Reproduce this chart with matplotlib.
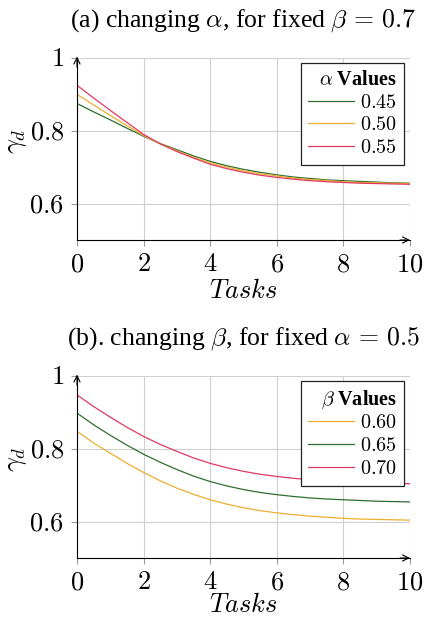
import matplotlib
matplotlib.use("Agg")
import matplotlib.pyplot as plt
from matplotlib.ticker import FixedLocator, FuncFormatter

plt.rcParams['mathtext.fontset'] = 'cm'
plt.rcParams['font.family'] = ['Liberation Serif', 'DejaVu Serif']

# ---------------- data ----------------
tasks = [0, 0.5, 1, 1.5, 2, 2.5, 3, 3.5, 4, 4.5, 5, 5.5, 6, 6.5, 7, 7.5, 8, 8.5, 9, 9.5, 10]

# panel (a): changing alpha, beta fixed at 0.7
alpha_labels = ["0.45", "0.50", "0.55"]
gamma_a045 = [0.875, 0.852, 0.830, 0.807, 0.785, 0.765, 0.748, 0.731, 0.716, 0.704, 0.694,
              0.686, 0.679, 0.673, 0.669, 0.665, 0.663, 0.661, 0.659, 0.657, 0.656]
gamma_a050 = [0.900, 0.871, 0.842, 0.814, 0.787, 0.764, 0.745, 0.727, 0.712, 0.700, 0.690,
              0.682, 0.676, 0.670, 0.666, 0.663, 0.660, 0.658, 0.657, 0.656, 0.655]
gamma_a055 = [0.925, 0.890, 0.856, 0.823, 0.790, 0.764, 0.743, 0.725, 0.708, 0.696, 0.686,
              0.678, 0.672, 0.667, 0.663, 0.660, 0.658, 0.656, 0.655, 0.654, 0.653]

# panel (b): changing beta, alpha fixed at 0.5
beta_labels = ["0.60", "0.65", "0.70"]
gamma_b060 = [0.848, 0.816, 0.788, 0.760, 0.735, 0.712, 0.692, 0.675, 0.660, 0.648, 0.638,
              0.630, 0.624, 0.619, 0.615, 0.612, 0.609, 0.607, 0.606, 0.605, 0.604]
gamma_b065 = [0.898, 0.866, 0.837, 0.810, 0.785, 0.763, 0.743, 0.725, 0.710, 0.698, 0.688,
              0.680, 0.674, 0.669, 0.665, 0.662, 0.660, 0.658, 0.656, 0.655, 0.654]
gamma_b070 = [0.948, 0.916, 0.887, 0.859, 0.834, 0.812, 0.793, 0.775, 0.760, 0.748, 0.738,
              0.730, 0.724, 0.719, 0.715, 0.712, 0.709, 0.707, 0.706, 0.705, 0.704]

x_ticks = [0, 2, 4, 6, 8, 10]
y_ticks = [0.6, 0.8, 1.0]

GREEN = '#2e6e2e'
YELLOW = '#eeae30'
RED = '#df3a62'

fig = plt.figure(figsize=(4.24, 6.2), dpi=100)

W, H = 424.0, 620.0
def add_axes(left, top, right, bottom):
    return fig.add_axes([left / W, 1 - bottom / H, (right - left) / W, (bottom - top) / H])

ax_a = add_axes(77, 58, 410, 240)
ax_b = add_axes(77, 376, 410, 558)

def style(ax, title, legend_title, series, labels, colors, xlab_y):
    for y, lab, c in zip(series, labels, colors):
        ax.plot(tasks, y, color=c, lw=0.9, label=f"${lab}$", zorder=3)
    ax.set_xlim(0, 10)
    ax.set_ylim(0.5, 1.0)
    ax.xaxis.set_major_locator(FixedLocator(x_ticks))
    ax.yaxis.set_major_locator(FixedLocator(y_ticks))
    ax.xaxis.set_major_formatter(FuncFormatter(lambda v, p: f"${v:g}$"))
    ax.yaxis.set_major_formatter(FuncFormatter(lambda v, p: f"${v:g}$"))
    ax.grid(True, color='#d0d0d0', lw=0.8, zorder=0)
    for s in ['top', 'right']:
        ax.spines[s].set_visible(False)
    for s in ['left', 'bottom']:
        ax.spines[s].set_color('black')
        ax.spines[s].set_linewidth(0.8)
        ax.spines[s].set_zorder(4)
    ax.tick_params(axis='both', direction='out', length=4.3, width=0.8, color='#9a9a9a',
                   labelsize=19, labelcolor='black')
    ax.tick_params(axis='x', pad=6)
    ax.tick_params(axis='y', pad=5)
    # arrow heads
    ax.annotate('', xy=(1.0, 0), xytext=(0.97, 0), xycoords='axes fraction',
                arrowprops=dict(arrowstyle='->,head_length=0.45,head_width=0.22', lw=0.8,
                                color='black', shrinkA=0, shrinkB=0))
    ax.annotate('', xy=(0, 1.008), xytext=(0, 0.95), xycoords='axes fraction',
                arrowprops=dict(arrowstyle='->,head_length=0.45,head_width=0.22', lw=0.8,
                                color='black', shrinkA=0, shrinkB=0))
    ax.text(0.5, 1.17, title, transform=ax.transAxes, ha='center', va='baseline',
            fontsize=18.5, family='Liberation Serif')
    ax.text(0.5, xlab_y, r"$Tasks$", transform=ax.transAxes, ha='center', va='baseline',
            fontsize=19)
    ax.text(-0.18, 0.544, r"$\gamma_d$", transform=ax.transAxes, ha='center', va='center',
            rotation=90, fontsize=19)
    leg = ax.legend(loc='upper right', bbox_to_anchor=(0.982, 0.9725), borderaxespad=0,
                    title=legend_title, alignment='right',
                    title_fontproperties={'family': 'Liberation Serif', 'weight': 'bold', 'size': 14.5},
                    prop={'size': 14.5}, frameon=True, fancybox=False, framealpha=1,
                    edgecolor='#222222', handlelength=2.3, handletextpad=0.3,
                    labelspacing=0.18, borderpad=0.35)
    leg.get_frame().set_linewidth(0.9)
    leg.set_zorder(5)

style(ax_a, r"(a) changing $\alpha$, for fixed $\beta\,=\,0.7$", r"$\alpha$ Values",
      [gamma_a045, gamma_a050, gamma_a055], alpha_labels, [GREEN, YELLOW, RED], -0.318)
style(ax_b, r"(b). changing $\beta$, for fixed $\alpha\,=\,0.5$", r"$\beta$ Values",
      [gamma_b060, gamma_b065, gamma_b070], beta_labels, [YELLOW, GREEN, RED], -0.295)

fig.savefig("out.png", dpi=100)
